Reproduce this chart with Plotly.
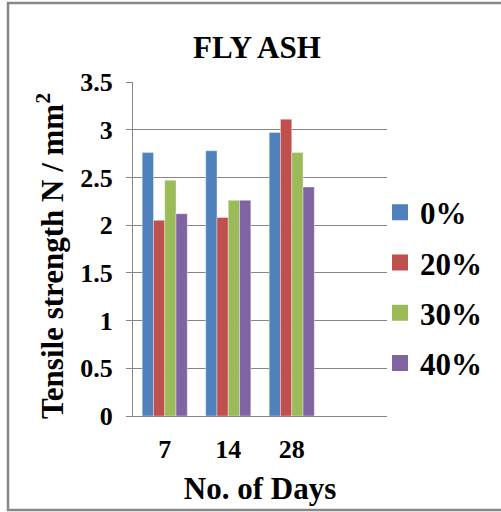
import plotly.graph_objects as go

# Curing age (days) and fly ash replacement levels
days = ["7", "14", "28"]
series_names = ["0%", "20%", "30%", "40%"]
tensile_0 = [2.76, 2.78, 2.97]
tensile_20 = [2.05, 2.08, 3.11]
tensile_30 = [2.47, 2.26, 2.76]
tensile_40 = [2.12, 2.26, 2.40]
y_ticks = [0, 0.5, 1, 1.5, 2, 2.5, 3, 3.5]
y_tick_text = ["0", "0.5", "1", "1.5", "2", "2.5", "3", "3.5"]

colors = ["#4F81BD", "#C0504D", "#9BBB59", "#8064A2"]
values = [tensile_0, tensile_20, tensile_30, tensile_40]

FONT = "Liberation Serif"

fig = go.Figure()
for name, vals, col in zip(series_names, values, colors):
    fig.add_trace(go.Bar(
        x=days, y=vals, name=name, legendgroup=name, showlegend=False,
        marker=dict(color=col, line=dict(color="rgba(255,255,255,0.6)", width=0.6)),
    ))
# legend entries with larger square swatches
for name, col in zip(series_names, colors):
    fig.add_trace(go.Scatter(
        x=[None], y=[None], mode="markers", name="<b>%s</b>" % name,
        legendgroup=name, showlegend=True,
        marker=dict(symbol="square", size=16, color=col),
    ))

# plot area: x 133..387, y 82..416 in a 501x512 page
L, R, T, B = 133, 387, 82, 416
W, H = 501, 512
pw, ph = R - L, B - T

def px_x(x):
    return (x - L) / pw

def px_y(y):
    return (B - y) / ph

fig.update_layout(
    template="none",
    width=W, height=H,
    margin=dict(l=L, r=W - R, t=T, b=H - B),
    paper_bgcolor="white", plot_bgcolor="white",
    barmode="group", bargap=0.29, bargroupgap=0.0,
    font=dict(family=FONT, color="black"),
    legend=dict(x=px_x(380), xanchor="left", y=px_y(288), yanchor="middle",
                font=dict(size=31, family="Times New Roman", color="black"),
                tracegroupgap=7, traceorder="grouped", itemwidth=30,
                itemsizing="trace", bgcolor="rgba(0,0,0,0)", borderwidth=0),
    showlegend=True,
)

fig.update_xaxes(
    type="category", categoryorder="array", categoryarray=days + [" "],
    range=[-0.5, 3.5],
    showline=True, linecolor="#868686", linewidth=1,
    showgrid=False, ticks="", ticklabelstandoff=10,
    tickfont=dict(size=26, family=FONT),
    tickprefix="<b>", ticksuffix="</b>",
    title=dict(text="<b>No. of Days</b>", font=dict(size=31, family=FONT), standoff=14),
)
fig.update_yaxes(
    range=[0, 3.5], tickmode="array", tickvals=y_ticks,
    ticktext=["<b>%s</b>" % t for t in y_tick_text],
    showline=True, linecolor="#868686", linewidth=1,
    showgrid=True, gridcolor="#868686", gridwidth=1,
    ticks="outside", ticklen=6, tickcolor="#868686",
    tickfont=dict(size=26, family=FONT), ticklabelstandoff=8,
    zeroline=False,
)

# chart title
fig.add_annotation(
    text="<b>FLY ASH</b>", xref="paper", yref="paper",
    x=px_x(257), y=px_y(47), xanchor="center", yanchor="middle", showarrow=False,
    font=dict(size=31, family=FONT, color="black"),
)

# vertical axis title
fig.add_annotation(
    text="<b>Tensile strength N / mm<sup>2</sup></b>", textangle=-90,
    xref="paper", yref="paper", x=px_x(50), y=px_y(256),
    xanchor="center", yanchor="middle", showarrow=False,
    font=dict(size=31, family=FONT, color="black"),
)

# outer frame of the chart area
fig.add_shape(type="rect", xref="paper", yref="paper",
              x0=px_x(8), x1=px_x(503), y0=px_y(510), y1=px_y(3),
              line=dict(color="#878787", width=2.5), fillcolor="rgba(0,0,0,0)",
              layer="below")

fig.write_html("out.html")
